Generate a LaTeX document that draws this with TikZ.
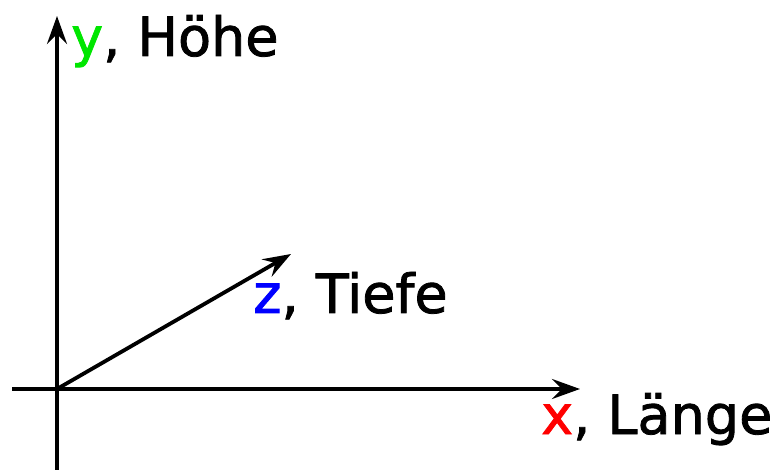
\documentclass[tikz,border=0pt]{standalone}
\usepackage{fontspec}
\setmainfont{DejaVu Sans}
\newfontfamily\heavyfont{DejaVu Sans}[FakeBold=1.5]
\usetikzlibrary{arrows.meta}
\definecolor{ygreen}{RGB}{0,230,0}
\definecolor{zblue}{RGB}{0,0,255}
\definecolor{xred}{RGB}{255,0,0}
\begin{document}
\begin{tikzpicture}[x=1pt,y=-1pt,
  axis/.style={line width=3.8pt,-{Stealth[length=28pt,width=20pt,inset=10pt]}},
  lbl/.style={anchor=base west,inner sep=0pt,font=\heavyfont\fontsize{54}{60}\selectfont}]
\useasboundingbox (0,0) rectangle (774,470);
\coordinate (o) at (57,389);
\coordinate (xs) at (12,389);
\coordinate (xe) at (580,389);
\coordinate (ys) at (57,470);
\coordinate (ye) at (57,16);
\coordinate (ze) at (291,254);
\draw[axis] (xs) -- (xe);
\draw[axis] (ys) -- (ye);
\draw[axis] (o) -- (ze);
\node[lbl] (ylab) at (71,56) {\textcolor{ygreen}{y}, Höhe};
\node[lbl] (zlab) at (253,313) {\textcolor{zblue}{z}, Tiefe};
\node[lbl] (xlab) at (541,434) {\textcolor{xred}{x}, Länge};
\end{tikzpicture}
\end{document}
